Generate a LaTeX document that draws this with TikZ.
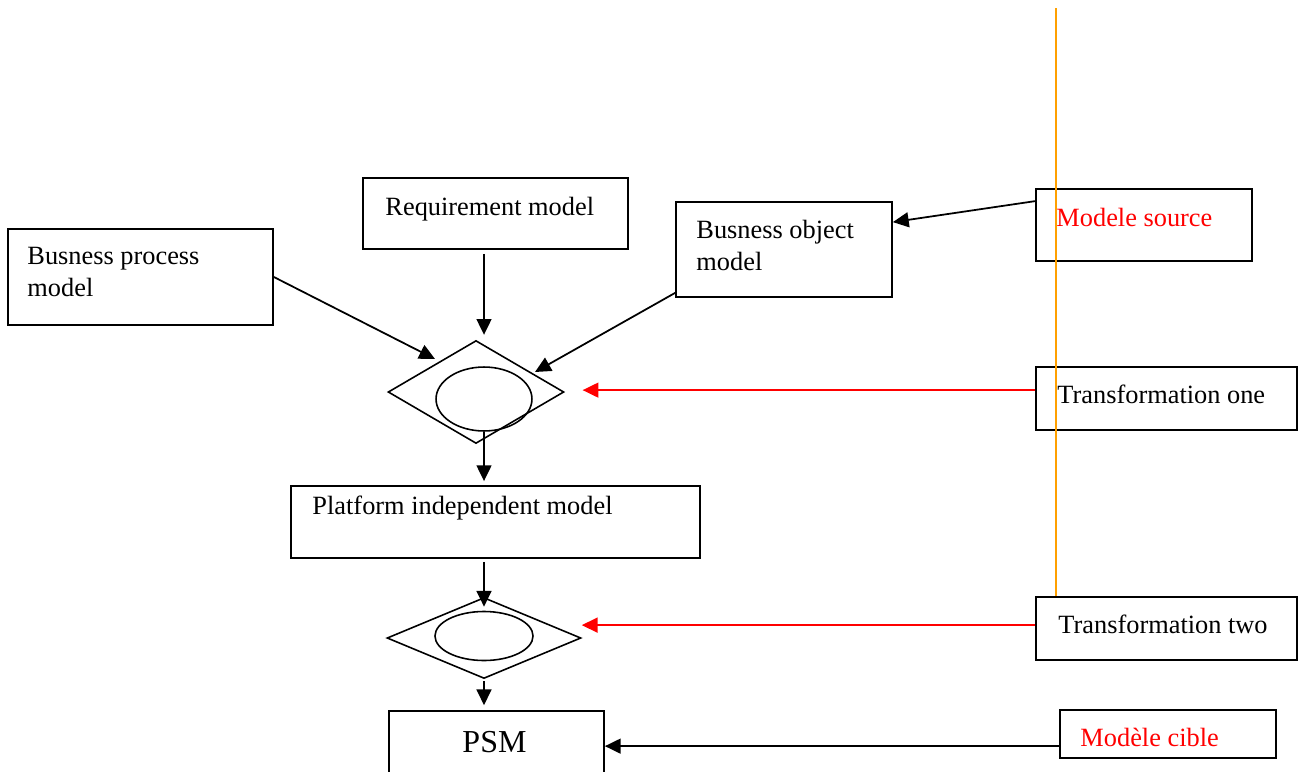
\documentclass[tikz,border=0pt]{standalone}
\usepackage{fontspec}
\setmainfont{Liberation Serif}
\usetikzlibrary{arrows.meta,shapes.geometric,fit}
\definecolor{labelred}{RGB}{255,0,0}
\definecolor{railorange}{RGB}{255,160,0}

\begin{document}
\begin{tikzpicture}
[x=0.02cm,y=-0.02cm,
  boxdecorate/.style={draw,line width=1pt,inner sep=0pt},
  labeldecorate/.style={anchor=base west,align=left,inner sep=0pt,font=\fontsize{15}{18.2}\selectfont},
  choicedecorate/.style={shape=diamond,draw,line width=0.9pt,inner sep=0pt},
  ovaldecorate/.style={shape=ellipse,draw,line width=0.9pt,inner sep=0pt},
  arrowdecorate/.style={-{Triangle[length=9pt,width=8.5pt]},line width=1pt}]
\useasboundingbox (0,0) rectangle (1298,771);
%% boxes
\foreach \nodename/\xa/\ya/\xb/\yb in {
  bpm/8/229/273/325, req/363/178/628/249, bom/676/202/892/297,
  src/1036/189/1252/261, one/1036/367/1297/430, pim/291/486/700/558,
  two/1036/597/1297/660, psm/389/711/604/790, cible/1060/710/1276/758} {
  \node (\nodename) [boxdecorate,fit={(\xa,\ya) (\xb,\yb)}] {};
}
%% texts (base = last line)
\foreach \nodename/\dx/\dy/\colour/\labeltext in {
  bpm/20/68/black/{Busness process\\model}, req/23/38/black/{Requirement model},
  bom/21/69/black/{Busness object\\model}, src/21/38/labelred/{Modele source},
  one/22/37/black/{Transformation one}, pim/22/29/black/{Platform independent model},
  two/23/37/black/{Transformation two}, cible/21/37/labelred/{Modèle cible}} {
  \node [labeldecorate,text=\colour] at ([shift={(\dx,\dy)}]\nodename.north west) {\labeltext};
}
\node [labeldecorate,font=\fontsize{18.2}{22}\selectfont] at ([shift={(74,42)}]psm.north west) {PSM};
%% transformations
\node (dia1) [choicedecorate,minimum width=100.1pt,minimum height=58.6pt] at (476,392) {};
\node (oval1) [ovaldecorate,minimum width=54.6pt,minimum height=36.4pt] at (484,399) {};
\node (dia2) [choicedecorate,minimum width=110.4pt,minimum height=46.1pt] at (484,638) {};
\node (oval2) [ovaldecorate,minimum width=55.8pt,minimum height=27.9pt] at (484,636) {};
%% arrow ends
\coordinate (reqout) at (req.south -| oval1);
\coordinate (dia1top) at (dia1.north -| oval1);
\coordinate (bpmtip) at (435,359);
\coordinate (bomout) at ([shift={(0,-5)}]bom.south west);
\coordinate (bomtip) at (535,372);
\coordinate (srcline) at ([shift={(0,13)}]src.north west);
\coordinate (bomin) at ([shift={(0,21)}]bom.north east);
\coordinate (pimtop) at (pim.north -| oval1);
\coordinate (pimout) at (pim.south -| oval2);
\coordinate (psmtop) at (psm.north -| dia2);
\coordinate (oneline) at ([shift={(0,24)}]one.north west);
\coordinate (dia1in) at (oneline -| dia1.east);
\coordinate (twoline) at ([shift={(0,29)}]two.north west);
\coordinate (dia2in) at (twoline -| dia2.east);
\coordinate (cibleline) at ([shift={(0,37)}]cible.north west);
\coordinate (psmin) at (cibleline -| psm.east);
%% edges
\path
\foreach \startnode/\endnode/\gapa/\gapb/\colour in {
  reqout/dia1top/2.3pt/2.8pt/black, bpm.east/bpmtip/0pt/0pt/black,
  bomout/bomtip/0pt/0pt/black, srcline/bomin/0pt/0pt/black,
  oval1.south/pimtop/0pt/2.3pt/black, pimout/oval2.north/1.7pt/2.3pt/black,
  dia2.south/psmtop/1pt/2.8pt/black, oneline/dia1in/0pt/10.2pt/labelred,
  twoline/dia2in/0pt/0pt/labelred, cibleline/psmin/0pt/0pt/black} {
  (\startnode) edge[arrowdecorate,draw=\colour,shorten <=\gapa,shorten >=\gapb] (\endnode)
};
%% orange rail
\coordinate (railtop) at (1056,8);
\coordinate (railend) at (1056,596);
\draw[line width=1.1pt,draw=railorange] (railtop) -- (railend);
\end{tikzpicture}
\end{document}
